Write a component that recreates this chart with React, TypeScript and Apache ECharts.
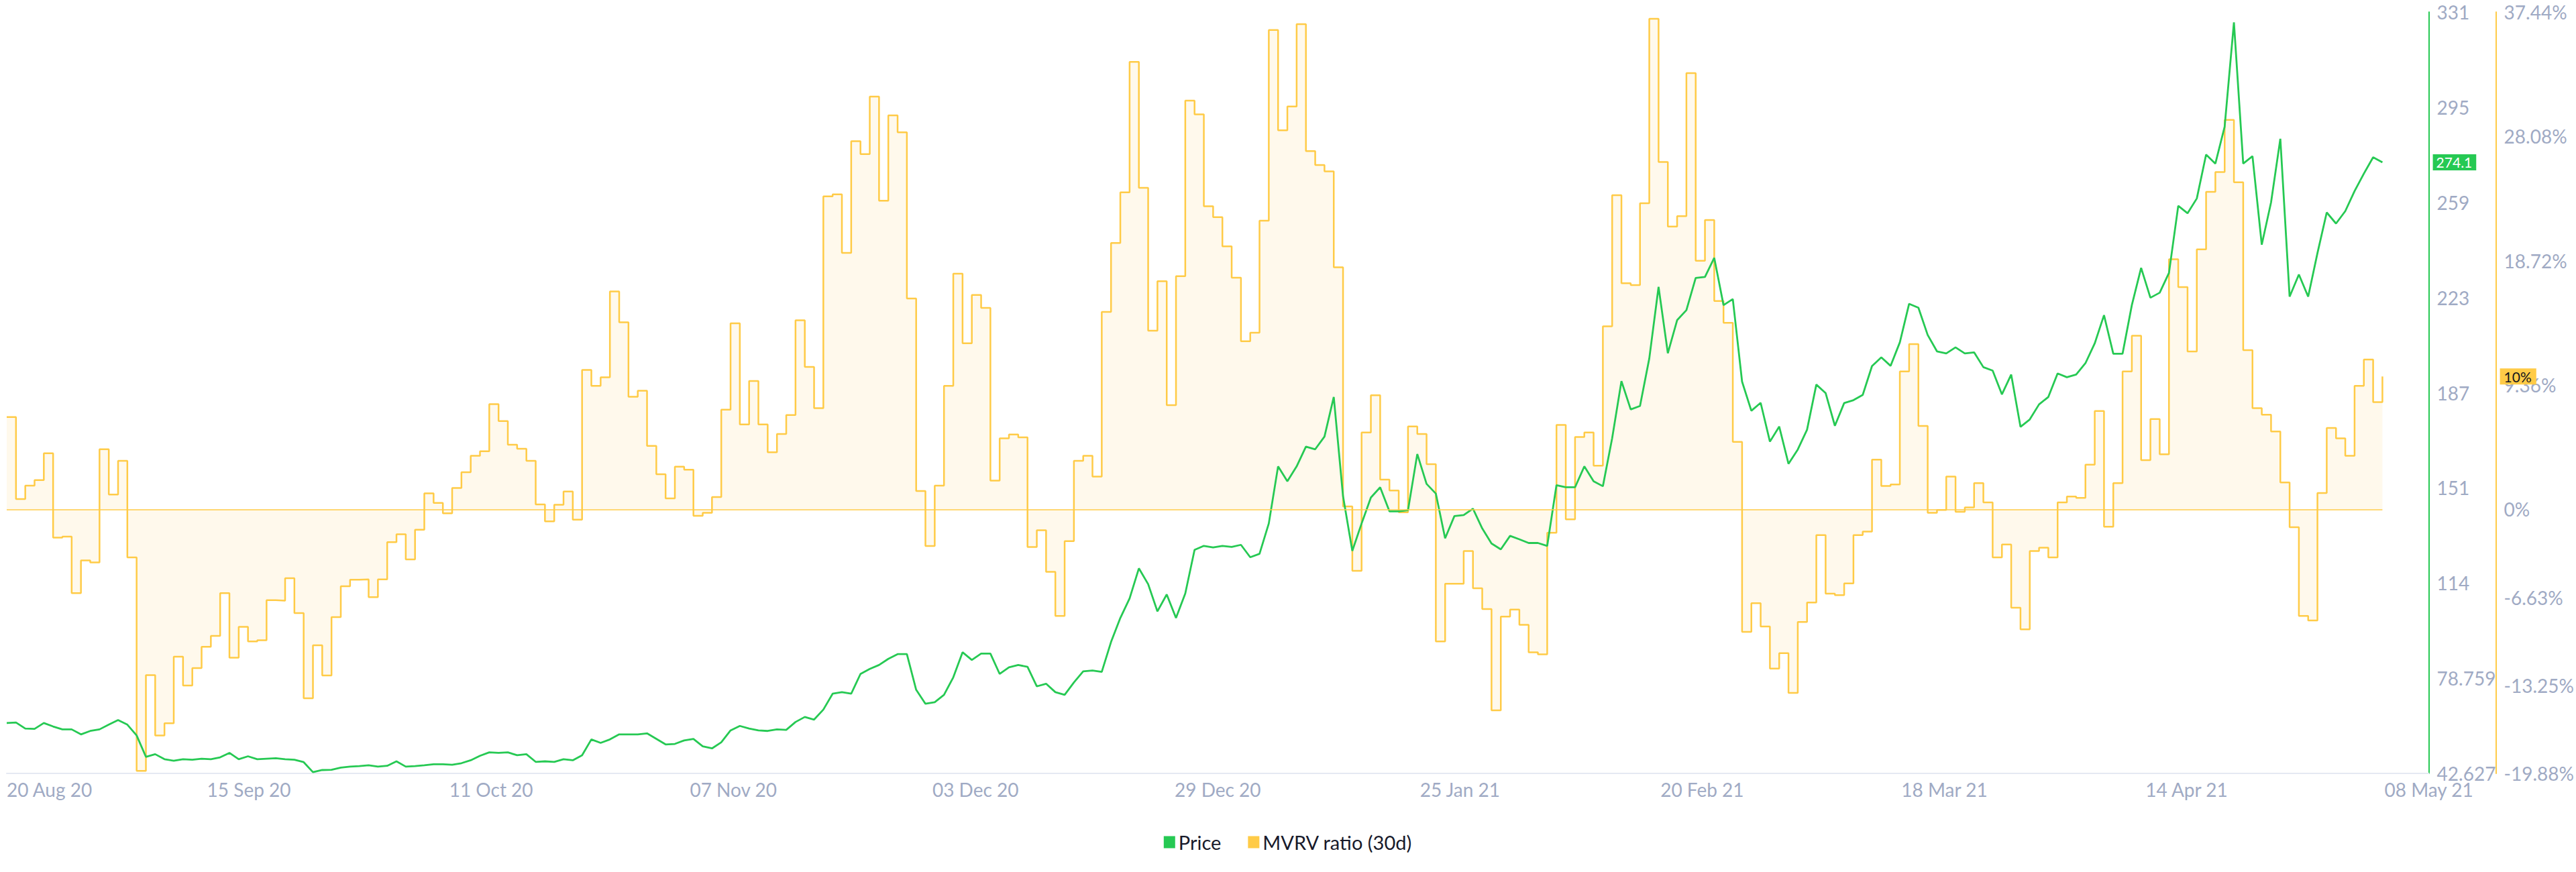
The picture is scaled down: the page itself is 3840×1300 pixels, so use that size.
import React, { useEffect, useRef } from 'react';
import * as echarts from 'echarts';

// ---- x axis (days since 20 Aug 2020) ----
const TOTAL_DAYS = 261;
const X_LABELS = [
  '20 Aug 20', '15 Sep 20', '11 Oct 20', '07 Nov 20', '03 Dec 20', '29 Dec 20',
  '25 Jan 21', '20 Feb 21', '18 Mar 21', '14 Apr 21', '08 May 21',
];

// ---- Price (daily) ----
const PRICE = [
  61.7, 61.9, 59.6, 59.5, 61.7, 60.4, 59.3, 59.3, 57.4, 58.7,
  59.3, 61.1, 62.8, 61.1, 57.0, 48.9, 49.9, 48.0, 47.4, 48.0,
  47.8, 48.2, 48.0, 48.7, 50.4, 48.0, 49.1, 48.0, 48.2, 48.4,
  48.0, 47.8, 46.9, 43.1, 43.9, 44.0, 44.8, 45.2, 45.4, 45.7,
  45.2, 45.5, 47.2, 45.2, 45.4, 45.7, 46.1, 46.1, 45.9, 46.5,
  47.6, 49.3, 50.6, 50.4, 50.6, 49.5, 49.9, 47.0, 47.2, 47.0,
  48.0, 47.6, 49.5, 55.5, 54.2, 55.5, 57.4, 57.4, 57.4, 57.8,
  55.7, 53.6, 53.8, 55.1, 55.7, 52.9, 52.1, 54.4, 58.9, 60.6,
  59.6, 58.9, 58.7, 59.3, 59.1, 62.1, 64.0, 63.0, 66.8, 72.8,
  73.4, 72.8, 80.3, 82.2, 83.7, 86.0, 87.8, 87.8, 74.3, 69.0,
  69.6, 72.4, 79.0, 88.5, 85.6, 88.0, 88.0, 80.3, 82.8, 83.7,
  83.0, 75.6, 76.6, 73.4, 72.4, 77.1, 81.3, 81.6, 81.1, 92.4,
  101.5, 108.9, 120.3, 114.3, 104.0, 110.4, 101.5, 110.8, 127.3, 128.8,
  128.2, 128.8, 128.4, 129.2, 124.5, 125.8, 137.3, 158.9, 153.3, 158.9,
  166.4, 165.4, 170.2, 185.2, 147.6, 126.9, 137.3, 147.1, 151.0, 141.9,
  141.9, 142.3, 163.6, 152.3, 148.6, 131.7, 140.1, 140.5, 142.9, 135.4,
  129.7, 127.5, 132.6, 131.3, 129.9, 129.9, 128.8, 151.8, 151.0, 151.0,
  158.9, 153.3, 151.4, 169.6, 191.2, 180.5, 181.8, 199.8, 226.9, 201.8,
  214.3, 218.1, 230.3, 230.7, 237.9, 220.0, 222.3, 191.0, 180.0, 183.0,
  168.3, 174.0, 159.9, 165.3, 172.8, 189.9, 186.7, 174.3, 182.9, 184.0,
  186.0, 196.9, 200.2, 197.0, 205.9, 220.5, 219.0, 208.7, 202.5, 201.7,
  204.0, 201.7, 202.1, 196.5, 195.2, 186.2, 193.7, 173.9, 176.7, 182.4,
  185.2, 194.1, 192.7, 193.7, 198.0, 205.5, 216.2, 201.6, 201.6, 220.0,
  234.1, 222.8, 224.7, 232.2, 257.6, 254.8, 260.4, 277.0, 273.6, 287.6,
  327.1, 273.6, 276.4, 242.9, 258.9, 283.0, 223.2, 231.6, 223.2, 239.7,
  255.1, 250.9, 255.6, 263.2, 269.8, 276.0, 274.1,
];

// ---- MVRV ratio (30d), % (daily) ----
const MVRV = [
  6.95, 0.78, 1.79, 2.2, 4.22, -2.13, -2.05, -6.31, -3.85, -4.0,
  4.52, 1.12, 3.66, -3.62, -19.69, -12.48, -17.03, -16.1, -11.09, -13.26,
  -11.95, -10.35, -9.53, -6.31, -11.17, -8.85, -9.94, -9.86, -6.84, -6.87,
  -5.19, -7.81, -14.23, -10.24, -12.51, -8.11, -5.79, -5.3, -5.27, -6.61,
  -5.27, -2.47, -1.87, -3.77, -1.53, 1.2, 0.49, -0.3, 1.61, 2.8,
  4.03, 4.37, 7.92, 6.65, 4.86, 4.56, 3.66, 0.37, -0.9, 0.34,
  1.34, -0.78, 10.5, 9.3, 9.94, 16.4, 14.08, 8.48, 8.93, 4.78,
  2.65, 0.82, 3.21, 2.99, -0.49, -0.26, 0.93, 7.51, 14.01, 6.39,
  9.67, 6.39, 4.3, 5.68, 7.1, 14.23, 10.72, 7.62, 23.57, 23.72,
  19.31, 27.72, 26.75, 31.08, 23.23, 29.66, 28.39, 15.88, 1.38, -2.76,
  1.79, 9.3, 17.74, 12.51, 16.14, 15.17, 2.17, 5.34, 5.64, 5.42,
  -2.84, -1.57, -4.71, -8.03, -2.39, 3.66, 4.03, 2.47, 14.87, 20.06,
  23.87, 33.69, 24.21, 13.45, 17.18, 7.84, 17.56, 30.78, 29.74, 22.82,
  22.0, 19.8, 17.44, 12.66, 13.3, 21.74, 36.09, 28.54, 30.33, 36.53,
  26.97, 25.92, 25.44, 18.23, 0.22, -4.63, 5.79, 8.59, 2.24, 1.42,
  -0.22, 6.24, 5.68, 3.4, -9.94, -5.6, -5.6, -3.14, -5.94, -7.51,
  -15.13, -8.07, -7.55, -8.7, -10.76, -10.91, -1.76, 6.35, -0.75, 5.45,
  5.79, 3.29, 13.78, 23.65, 17.03, 16.88, 23.05, 36.94, 26.15, 21.29,
  22.08, 32.84, 18.72, 21.78, 15.69, 14.05, 5.08, -9.23, -7.06, -8.82,
  -11.99, -10.83, -13.82, -8.48, -7.02, -1.94, -6.35, -6.46, -5.57, -1.94,
  -1.68, 3.74, 1.76, 1.87, 10.38, 12.44, 6.28, -0.26, -0.04, 2.47,
  -0.19, 0.15, 1.98, 0.52, -3.62, -2.65, -7.4, -9.04, -3.14, -2.88,
  -3.62, 0.52, 0.97, 0.86, 3.36, 7.4, -1.31, 1.98, 10.38, 13.07,
  3.7, 6.8, 4.15, 18.83, 16.74, 11.88, 19.57, 23.91, 25.4, 29.32,
  24.62, 11.99, 7.62, 7.13, 5.86, 2.02, -1.34, -8.03, -8.37, 1.23,
  6.13, 5.34, 4.03, 9.3, 11.28, 8.07, 10.0,
];

// ---- axis ticks ----
const PRICE_MIN = 42.627;
const PRICE_MAX = 331;
const PRICE_TICK_LABELS = ['42.627', '78.759', '114', '151', '187', '223', '259', '295', '331'];
const MVRV_TICKS = [-19.88, -13.25, -6.63, 0, 9.36, 18.72, 28.08, 37.44];

const GREEN = '#26c953';
const YELLOW = '#ffcb47';
const AXIS_TEXT = '#9faac4';
const FONT = 'Lato, sans-serif';
const HIDDEN = 'rgba(0,0,0,0)';

export default function App() {
  const ref = useRef<HTMLDivElement>(null);

  useEffect(() => {
    if (!ref.current) return;
    const chart = echarts.init(ref.current, null, { renderer: 'svg' });

    const xStep = TOTAL_DAYS / (X_LABELS.length - 1);
    const xTicks = X_LABELS.map((_, i) => +(i * xStep).toFixed(4));
    const pStep = (PRICE_MAX - PRICE_MIN) / (PRICE_TICK_LABELS.length - 1);
    const pTicks = PRICE_TICK_LABELS.map((_, i) => +(PRICE_MIN + i * pStep).toFixed(6));
    const lastPrice = PRICE[PRICE.length - 1];
    const lastMvrv = MVRV[MVRV.length - 1];

    const option: any = {
      animation: false,
      textStyle: { fontFamily: FONT },
      grid: { left: 10, right: 200, top: 18, bottom: 147, containLabel: false },
      legend: {
        top: 1236,
        left: 'center',
        icon: 'rect',
        itemWidth: 17,
        itemHeight: 18,
        itemGap: 40,
        textStyle: { fontSize: 29, color: '#181a2b', fontFamily: FONT },
        data: ['Price', 'MVRV ratio (30d)'],
      },
      xAxis: {
        type: 'value',
        min: 0,
        max: TOTAL_DAYS,
        axisLine: { show: true, onZero: false, lineStyle: { color: '#e5e9f2', width: 2 } },
        axisTick: { show: false },
        splitLine: { show: false },
        axisLabel: {
          customValues: xTicks,
          formatter: (v: number) => X_LABELS[Math.round(v / xStep)] ?? '',
          color: AXIS_TEXT,
          fontSize: 28,
          margin: 10,
          alignMinLabel: 'left',
          showMinLabel: true,
          showMaxLabel: true,
          fontFamily: FONT,
        },
      },
      yAxis: [
        {
          type: 'value',
          position: 'right',
          min: PRICE_MIN,
          max: PRICE_MAX,
          axisLine: { show: true, onZero: false, lineStyle: { color: GREEN, width: 2 } },
          axisTick: { show: false },
          splitLine: { show: false },
          axisLabel: {
            customValues: pTicks,
            formatter: (v: number) => PRICE_TICK_LABELS[Math.round((v - PRICE_MIN) / pStep)] ?? '',
            color: AXIS_TEXT,
            fontSize: 28,
            margin: 12,
            fontFamily: FONT,
          },
        },
        {
          type: 'value',
          position: 'right',
          offset: 100,
          min: MVRV_TICKS[0],
          max: MVRV_TICKS[MVRV_TICKS.length - 1],
          axisLine: { show: true, onZero: false, lineStyle: { color: YELLOW, width: 2 } },
          axisTick: { show: false },
          splitLine: { show: false },
          axisLabel: {
            customValues: MVRV_TICKS,
            formatter: (v: number) => {
              let best = MVRV_TICKS[0];
              for (const t of MVRV_TICKS) if (Math.abs(t - v) < Math.abs(best - v)) best = t;
              return `${best}%`;
            },
            color: AXIS_TEXT,
            fontSize: 28,
            margin: 12,
            fontFamily: FONT,
          },
        },
      ],
      series: [
        {
          name: 'MVRV ratio (30d)',
          type: 'line',
          yAxisIndex: 1,
          step: 'end',
          symbol: 'none',
          z: 2,
          color: YELLOW,
          lineStyle: { color: YELLOW, width: 2.5 },
          areaStyle: { color: 'rgba(255, 203, 71, 0.15)', origin: 0 },
          data: MVRV.map((v, i) => [i, v]),
          markLine: {
            silent: true,
            symbol: ['none', 'none'],
            animation: false,
            data: [
              [
                {
                  coord: [0, 0],
                  lineStyle: { color: YELLOW, width: 1.5, type: 'solid' },
                  label: { show: false },
                },
                { coord: [MVRV.length - 1, 0] },
              ],
              {
                yAxis: lastMvrv,
                lineStyle: { color: HIDDEN, width: 1, type: 'solid' },
                label: {
                  show: true,
                  position: 'end',
                  distance: 106,
                  formatter: `${Math.round(lastMvrv)}%`,
                  backgroundColor: YELLOW,
                  color: '#15161d',
                  fontSize: 21,
                  lineHeight: 21,
                  padding: [2, 7, 1, 6],
                  fontFamily: FONT,
                },
              },
            ],
          },
        },
        {
          name: 'Price',
          type: 'line',
          yAxisIndex: 0,
          symbol: 'none',
          z: 3,
          color: GREEN,
          lineStyle: { color: GREEN, width: 2.8 },
          data: PRICE.map((v, i) => [i, v]),
          markLine: {
            silent: true,
            symbol: ['none', 'none'],
            animation: false,
            data: [
              {
                yAxis: lastPrice,
                lineStyle: { color: HIDDEN, width: 1, type: 'solid' },
                label: {
                  show: true,
                  position: 'end',
                  distance: 6,
                  formatter: `${lastPrice}`,
                  backgroundColor: GREEN,
                  color: '#ffffff',
                  fontSize: 21,
                  lineHeight: 21,
                  padding: [2, 6, 1, 5],
                  fontFamily: FONT,
                },
              },
            ],
          },
        },
      ],
    };

    chart.setOption(option);
    return () => chart.dispose();
  }, []);

  return (
    <div
      ref={ref}
      style={{ position: 'absolute', left: 0, top: 0, width: 3840, height: 1300 }}
    />
  );
}
